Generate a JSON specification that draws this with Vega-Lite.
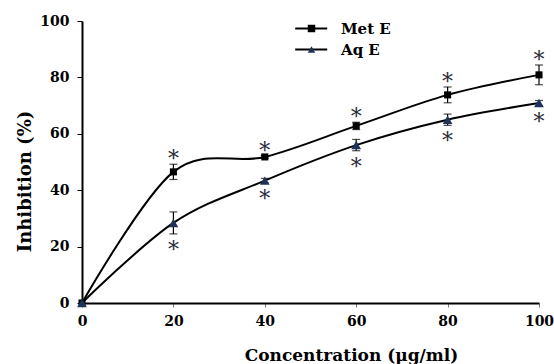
{
  "$schema": "https://vega.github.io/schema/vega-lite/v6.json",
  "width": 457,
  "height": 282,
  "autosize": {"type": "none"},
  "padding": {"left": 82, "top": 21, "right": 15, "bottom": 61},
  "background": "white",
  "config": {
    "view": {"stroke": null},
    "font": "DejaVu Serif",
    "axis": {"grid": false},
    "axisY": {
      "domainWidth": 2,
      "domainColor": "black",
      "tickColor": "black",
      "tickSize": 5,
      "tickWidth": 1,
      "labelFont": "DejaVu Serif",
      "labelFontWeight": "bold",
      "labelFontSize": 14,
      "labelColor": "black",
      "labelPadding": 8,
      "labelFlush": false,
      "titleFont": "DejaVu Serif",
      "titleFontWeight": "bold",
      "titleFontSize": 18,
      "titleColor": "black",
      "titleX": -48,
      "titleY": 160
    }
  },
  "data": {
    "values": [
      {"conc": 0, "series": "Met E", "inhibition": 0, "lo": 0, "hi": 0},
      {"conc": 20, "series": "Met E", "inhibition": 46.5, "lo": 43.8, "hi": 49.2},
      {"conc": 40, "series": "Met E", "inhibition": 51.8, "lo": 51.3, "hi": 52.3},
      {"conc": 60, "series": "Met E", "inhibition": 62.8, "lo": 61.5, "hi": 64.1},
      {"conc": 80, "series": "Met E", "inhibition": 73.8, "lo": 71.0, "hi": 76.6},
      {"conc": 100, "series": "Met E", "inhibition": 80.9, "lo": 77.4, "hi": 84.4},
      {"conc": 0, "series": "Aq E", "inhibition": 0, "lo": 0, "hi": 0},
      {"conc": 20, "series": "Aq E", "inhibition": 28.4, "lo": 24.5, "hi": 32.3},
      {"conc": 40, "series": "Aq E", "inhibition": 43.4, "lo": 42.6, "hi": 44.2},
      {"conc": 60, "series": "Aq E", "inhibition": 56.0, "lo": 54.0, "hi": 58.0},
      {"conc": 80, "series": "Aq E", "inhibition": 65.0, "lo": 63.0, "hi": 67.0},
      {"conc": 100, "series": "Aq E", "inhibition": 70.9, "lo": 70.0, "hi": 71.8}
    ]
  },
  "encoding": {
    "x": {
      "field": "conc",
      "type": "quantitative",
      "scale": {"domain": [0, 100], "nice": false},
      "axis": {
        "title": "Concentration (µg/ml)",
        "values": [0, 20, 40, 60, 80, 100],
        "domainWidth": 2,
        "domainColor": "black",
        "tickColor": "#777",
        "tickSize": 4,
        "tickWidth": 1,
        "labelFont": "DejaVu Serif",
        "labelFontWeight": "bold",
        "labelFontSize": 14,
        "labelColor": "black",
        "labelPadding": 7,
        "labelFlush": false,
        "titleFont": "DejaVu Serif",
        "titleFontWeight": "bold",
        "titleFontSize": 17,
        "titleColor": "black",
        "titleX": 269,
        "titleY": 44
      }
    }
  },
  "layer": [
    {
      "mark": {"type": "line", "interpolate": "cardinal", "strokeWidth": 2},
      "encoding": {
        "y": {
          "field": "inhibition",
          "type": "quantitative",
          "title": "Inhibition (%)",
          "scale": {"domain": [0, 100], "nice": false},
          "axis": {"values": [0, 20, 40, 60, 80, 100]}
        },
        "stroke": {
          "field": "series",
          "type": "nominal",
          "sort": ["Met E", "Aq E"],
          "scale": {"range": ["black", "black"]},
          "legend": {
            "title": null,
            "orient": "none",
            "legendX": 221.7,
            "legendY": 0,
            "symbolType": "M-4,0H4",
            "symbolSize": 64,
            "symbolStrokeWidth": 2,
            "labelFont": "DejaVu Serif",
            "labelFontWeight": "bold",
            "labelFontSize": 15,
            "labelColor": "rgba(0,0,0,0)",
            "labelOffset": 22,
            "rowPadding": 5,
            "padding": 0
          }
        }
      }
    },
    {
      "transform": [{"filter": "datum.conc > 0"}],
      "mark": {"type": "errorbar", "ticks": {"size": 8, "color": "black"}, "rule": {"color": "black"}, "thickness": 1.2},
      "encoding": {
        "y": {"field": "lo", "type": "quantitative", "title": "Inhibition (%)"},
        "y2": {"field": "hi", "title": "Inhibition (%)"},
        "detail": {"field": "series", "type": "nominal"}
      }
    },
    {
      "transform": [{"filter": "datum.series == 'Met E'"}],
      "mark": {"type": "point", "filled": true, "opacity": 1, "size": 50},
      "encoding": {
        "y": {"field": "inhibition", "type": "quantitative", "title": "Inhibition (%)"},
        "shape": {
          "field": "series",
          "type": "nominal",
          "scale": {"domain": ["Met E", "Aq E"], "range": ["square", "triangle-up"]},
          "legend": {
            "title": null,
            "orient": "none",
            "legendX": 222,
            "legendY": 0,
            "symbolSize": 56,
            "symbolOpacity": 1,
            "labelFont": "DejaVu Serif",
            "labelFontWeight": "bold",
            "labelFontSize": 15,
            "labelColor": "black",
            "labelOffset": 22,
            "rowPadding": 5,
            "padding": 0
          }
        },
        "fill": {
          "field": "series",
          "type": "nominal",
          "scale": {"domain": ["Met E", "Aq E"], "range": ["black", "#1f3358"]},
          "legend": null
        }
      }
    },
    {
      "transform": [{"filter": "datum.series == 'Aq E'"}],
      "mark": {"type": "point", "filled": true, "opacity": 1, "size": 95},
      "encoding": {
        "y": {"field": "inhibition", "type": "quantitative", "title": "Inhibition (%)"},
        "shape": {"field": "series", "type": "nominal"},
        "fill": {"field": "series", "type": "nominal", "legend": null}
      }
    },
    {
      "transform": [{"filter": "datum.conc > 0 && datum.series == 'Met E'"}],
      "mark": {"type": "text", "text": "*", "fontSize": 22, "font": "DejaVu Serif", "color": "#2a2a3a", "baseline": "middle", "dy": -5},
      "encoding": {"y": {"field": "hi", "type": "quantitative", "title": "Inhibition (%)"}}
    },
    {
      "transform": [{"filter": "datum.conc > 0 && datum.series == 'Aq E'"}],
      "mark": {"type": "text", "text": "*", "fontSize": 22, "font": "DejaVu Serif", "color": "#2a2a3a", "baseline": "middle", "dy": 16},
      "encoding": {"y": {"field": "lo", "type": "quantitative", "title": "Inhibition (%)"}}
    }
  ]
}
